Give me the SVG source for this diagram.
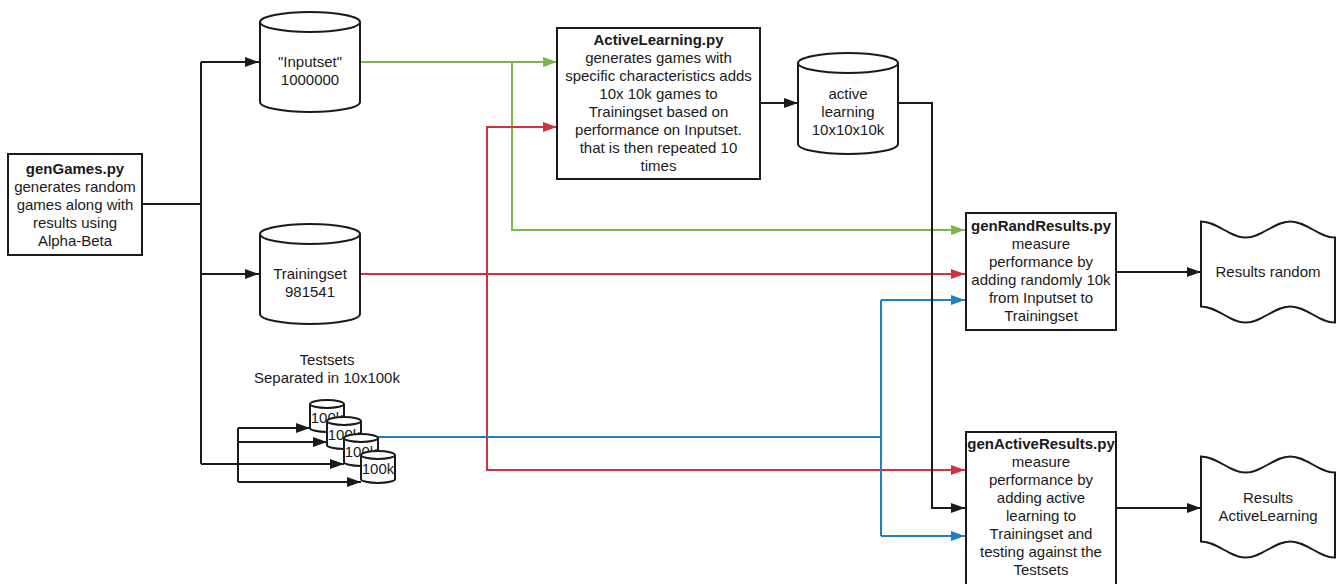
<svg xmlns="http://www.w3.org/2000/svg" width="1341" height="584" viewBox="0 0 1341 584">
  <defs>
    <style>
      text { font-family: "Liberation Sans", Arial, sans-serif; font-size: 15px; fill: #1a1a1a; text-anchor: middle; }
      .b { font-weight: bold; }
      .shape { fill: #ffffff; stroke: #1a1a1a; stroke-width: 2; }
      .edge { fill: none; stroke-width: 2; }
      .k { stroke: #1a1a1a; }
      .g { stroke: #7ab648; }
      .r { stroke: #d0333f; }
      .u { stroke: #1f80c6; }
    </style>
    <marker id="ak" markerUnits="userSpaceOnUse" markerWidth="14" markerHeight="10" refX="14" refY="5" orient="auto">
      <path d="M0,0 L14,5 L0,10 Z" fill="#1a1a1a"/>
    </marker>
    <marker id="ag" markerUnits="userSpaceOnUse" markerWidth="14" markerHeight="10" refX="14" refY="5" orient="auto">
      <path d="M0,0 L14,5 L0,10 Z" fill="#7ab648"/>
    </marker>
    <marker id="ar" markerUnits="userSpaceOnUse" markerWidth="14" markerHeight="10" refX="14" refY="5" orient="auto">
      <path d="M0,0 L14,5 L0,10 Z" fill="#d0333f"/>
    </marker>
    <marker id="au" markerUnits="userSpaceOnUse" markerWidth="14" markerHeight="10" refX="14" refY="5" orient="auto">
      <path d="M0,0 L14,5 L0,10 Z" fill="#1f80c6"/>
    </marker>
  </defs>

  <rect width="1341" height="584" fill="#ffffff"/>

  <!-- connectors -->
  <g id="connectors">
    <!-- genGames fan-out -->
    <path class="edge k" d="M143,204 H201"/>
    <path class="edge k" d="M201,62 V464"/>
    <path class="edge k" d="M201,62 H259" marker-end="url(#ak)"/>
    <path class="edge k" d="M201,274 H259" marker-end="url(#ak)"/>
    <path class="edge k" d="M201,464 H344" marker-end="url(#ak)"/>
    <path class="edge k" d="M238,428 V482"/>
    <path class="edge k" d="M238,428 H310" marker-end="url(#ak)"/>
    <path class="edge k" d="M238,442 H327" marker-end="url(#ak)"/>
    <path class="edge k" d="M238,482 H361" marker-end="url(#ak)"/>

    <!-- Inputset -->
    <path class="edge g" d="M361,62 H557" marker-end="url(#ag)"/>
    <path class="edge g" d="M512,62 V230 H965" marker-end="url(#ag)"/>

    <!-- Trainingset -->
    <path class="edge r" d="M361,274 H965" marker-end="url(#ar)"/>
    <path class="edge r" d="M487,274 V127 H557" marker-end="url(#ar)"/>
    <path class="edge r" d="M487,274 V470 H965" marker-end="url(#ar)"/>

    <!-- Testsets -->
    <path class="edge u" d="M378,437 H881"/>
    <path class="edge u" d="M881,300 V536"/>
    <path class="edge u" d="M881,300 H965" marker-end="url(#au)"/>
    <path class="edge u" d="M881,536 H965" marker-end="url(#au)"/>

    <!-- active learning output -->
    <path class="edge k" d="M760,103 H798" marker-end="url(#ak)"/>
    <path class="edge k" d="M899,103 H932 V508 H965" marker-end="url(#ak)"/>

    <!-- results -->
    <path class="edge k" d="M1117,272 H1201" marker-end="url(#ak)"/>
    <path class="edge k" d="M1117,508 H1201" marker-end="url(#ak)"/>
  </g>

  <!-- genGames.py -->
  <g id="genGames">
    <rect class="shape" x="8" y="154" width="134" height="101"/>
    <text x="75" y="174" class="b">genGames.py</text>
    <text x="75" y="192">generates random</text>
    <text x="75" y="210">games along with</text>
    <text x="75" y="228">results using</text>
    <text x="75" y="246">Alpha-Beta</text>
  </g>

  <!-- Inputset -->
  <g id="inputset">
    <path class="shape" d="M260,22 A50,10 0 0 1 360,22 L360,102 A50,10 0 0 1 260,102 Z"/>
    <path class="shape" fill="none" d="M260,22 A50,10 0 0 0 360,22"/>
    <text x="310" y="67">"Inputset"</text>
    <text x="310" y="85">1000000</text>
  </g>

  <!-- Trainingset -->
  <g id="trainingset">
    <path class="shape" d="M260,234 A50,10 0 0 1 360,234 L360,314 A50,10 0 0 1 260,314 Z"/>
    <path class="shape" fill="none" d="M260,234 A50,10 0 0 0 360,234"/>
    <text x="310" y="279">Trainingset</text>
    <text x="310" y="297">981541</text>
  </g>

  <!-- Testsets -->
  <g id="testsets">
    <text x="327" y="365">Testsets</text>
    <text x="327" y="383">Separated in 10x100k</text>
    <path class="shape" d="M310,404 A17,4 0 0 1 344,404 L344,428 A17,4 0 0 1 310,428 Z"/>
    <path class="shape" d="M310,404 A17,4 0 0 0 344,404"/>
    <text x="327" y="423">100k</text>
    <path class="shape" d="M327,421 A17,4 0 0 1 361,421 L361,445 A17,4 0 0 1 327,445 Z"/>
    <path class="shape" d="M327,421 A17,4 0 0 0 361,421"/>
    <text x="344" y="440">100k</text>
    <path class="shape" d="M344,438 A17,4 0 0 1 378,438 L378,462 A17,4 0 0 1 344,462 Z"/>
    <path class="shape" d="M344,438 A17,4 0 0 0 378,438"/>
    <text x="361" y="457">100k</text>
    <path class="shape" d="M361,455 A17,4 0 0 1 395,455 L395,479 A17,4 0 0 1 361,479 Z"/>
    <path class="shape" d="M361,455 A17,4 0 0 0 395,455"/>
    <text x="378" y="474">100k</text>
  </g>

  <!-- ActiveLearning.py -->
  <g id="activeLearningPy">
    <rect class="shape" x="557" y="28" width="203" height="151"/>
    <text x="658.5" y="45" class="b">ActiveLearning.py</text>
    <text x="658.5" y="63">generates games with</text>
    <text x="658.5" y="81">specific characteristics adds</text>
    <text x="658.5" y="99">10x 10k games to</text>
    <text x="658.5" y="117">Trainingset based on</text>
    <text x="658.5" y="135">performance on Inputset.</text>
    <text x="658.5" y="153">that is then repeated 10</text>
    <text x="658.5" y="171">times</text>
  </g>

  <!-- active learning store -->
  <g id="activeStore">
    <path class="shape" d="M798,63 A50,10 0 0 1 898,63 L898,144 A50,10 0 0 1 798,144 Z"/>
    <path class="shape" fill="none" d="M798,63 A50,10 0 0 0 898,63"/>
    <text x="848" y="99">active</text>
    <text x="848" y="117">learning</text>
    <text x="848" y="135">10x10x10k</text>
  </g>

  <!-- genRandResults.py -->
  <g id="genRandResults">
    <rect class="shape" x="966" y="213" width="150" height="117"/>
    <text x="1041" y="231" class="b">genRandResults.py</text>
    <text x="1041" y="249">measure</text>
    <text x="1041" y="267">performance by</text>
    <text x="1041" y="285">adding randomly 10k</text>
    <text x="1041" y="303">from Inputset to</text>
    <text x="1041" y="321">Trainingset</text>
  </g>

  <!-- genActiveResults.py -->
  <g id="genActiveResults">
    <rect class="shape" x="966" y="432" width="150" height="156"/>
    <text x="1041" y="449" class="b">genActiveResults.py</text>
    <text x="1041" y="467">measure</text>
    <text x="1041" y="485">performance by</text>
    <text x="1041" y="503">adding active</text>
    <text x="1041" y="521">learning to</text>
    <text x="1041" y="539">Trainingset and</text>
    <text x="1041" y="557">testing against the</text>
    <text x="1041" y="575">Testsets</text>
  </g>

  <!-- Results random -->
  <g id="resultsRandom">
    <path class="shape" d="M1201,221.5 C1217.3,221.5 1229.4,237.5 1245.7,237.5 C1262,237.5 1274,221.5 1290.3,221.5 C1306.6,221.5 1318.7,237.5 1335,237.5 L1335,322.5 C1318.7,322.5 1306.6,306.5 1290.3,306.5 C1274,306.5 1262,322.5 1245.7,322.5 C1229.4,322.5 1217.3,306.5 1201,306.5 Z"/>
    <text x="1268" y="277">Results random</text>
  </g>

  <!-- Results ActiveLearning -->
  <g id="resultsActive">
    <path class="shape" d="M1201,456.5 C1217.3,456.5 1229.4,472.5 1245.7,472.5 C1262,472.5 1274,456.5 1290.3,456.5 C1306.6,456.5 1318.7,472.5 1335,472.5 L1335,557.5 C1318.7,557.5 1306.6,541.5 1290.3,541.5 C1274,541.5 1262,557.5 1245.7,557.5 C1229.4,557.5 1217.3,541.5 1201,541.5 Z"/>
    <text x="1268" y="503">Results</text>
    <text x="1268" y="521">ActiveLearning</text>
  </g>
</svg>
